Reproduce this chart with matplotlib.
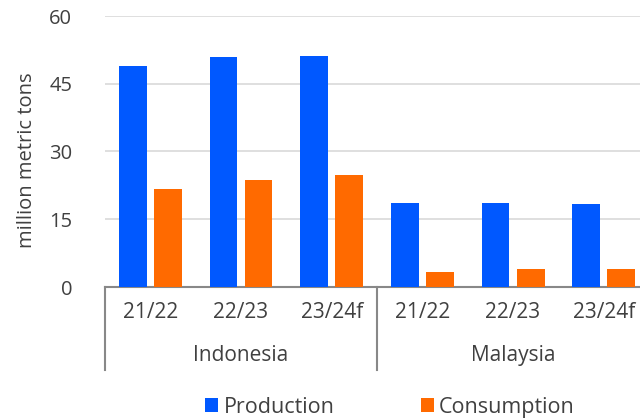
import numpy as np
import matplotlib.pyplot as plt
import matplotlib.transforms as mtransforms

plt.rcParams['font.family'] = ['Open Sans', 'DejaVu Sans']

# palm oil balance, million metric tons
years = ['21/22', '22/23', '23/24f', '21/22', '22/23', '23/24f']
countries = ['Indonesia', 'Malaysia']
production = [49.0, 51.0, 51.25, 18.5, 18.6, 18.4]
consumption = [21.7, 23.8, 24.9, 3.3, 3.9, 3.9]

blue = '#0058ff'
orange = '#ff6a00'
txt = '#404040'

fig = plt.figure(figsize=(6.4, 4.19), dpi=100)
ax = fig.add_axes([105 / 640, 1 - 287 / 419, 1 - 105 / 640, 271 / 419])

x = np.arange(len(years))
w = 0.307
ax.bar(x - 0.5 + 0.153, production, width=w, align='edge', color=blue, label='Production', zorder=3)
ax.bar(x + 0.5 - 0.153 - w, consumption, width=w, align='edge', color=orange, label='Consumption', zorder=3)

ax.set_xlim(-0.5, 5.4)
ax.set_ylim(0, 60)
ax.set_yticks([0, 15, 30, 45, 60])
ax.yaxis.grid(True, color='#d9d9d9', linewidth=1.2)
ax.set_axisbelow(True)
for s in ['top', 'right', 'left']:
    ax.spines[s].set_visible(False)
ax.spines['bottom'].set_color('#888888')
ax.spines['bottom'].set_linewidth(1.5)
ax.tick_params(axis='y', length=0, labelsize=14.5, colors=txt, pad=23.5)
ax.set_xticks(x)
ax.set_xticklabels(years)
ax.tick_params(axis='x', length=0, labelsize=15, colors=txt, pad=11)
ax.set_ylabel('million metric tons', fontsize=14.5, color=txt)
ax.yaxis.set_label_coords(-0.127, 0.469)

# country grouping below the category labels
trans = mtransforms.blended_transform_factory(ax.transData, ax.transAxes)
for xs in [-0.5, 2.5]:
    ax.plot([xs, xs], [0, -83 / 271], transform=trans, color='#888888', linewidth=1.5, clip_on=False)
for i, c in enumerate(countries):
    ax.text(3 * i + 1, -68 / 271, c, transform=trans, ha='center', va='center', fontsize=15, color=txt)

fig.legend(loc='center', bbox_to_anchor=(390 / 640, 1 - 407 / 419), ncol=2, frameon=False,
           fontsize=15.5, handlelength=0.6, handleheight=0.6, handletextpad=0.25, columnspacing=4.0,
           labelcolor=txt)

fig.savefig('out.png', dpi=100)
